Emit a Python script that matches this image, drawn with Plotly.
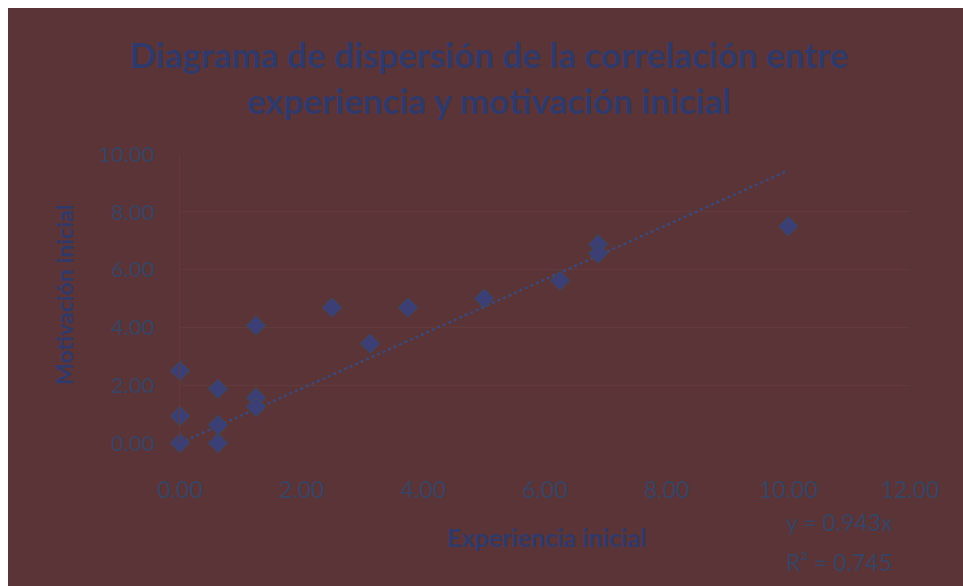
import numpy as np
import plotly.graph_objects as go

# Experiencia inicial (x) vs Motivación inicial (y)
experiencia = [0.0, 0.0, 0.0, 0.625, 0.625, 0.625, 1.25, 1.25, 1.25,
               2.5, 3.125, 3.75, 5.0, 6.25, 6.875, 6.875, 10.0]
motivacion = [0.0, 0.9375, 2.5, 0.0, 0.625, 1.875, 4.0625, 1.5625, 1.25,
              4.6875, 3.4375, 4.6875, 5.0, 5.625, 6.875, 6.5625, 7.5]

# Linear trend through the origin, as reported on the chart
trend_slope = 0.943
trend_r2 = 0.745
trend_x = [0.0, 10.0]

x_ticks = [0, 2, 4, 6, 8, 10, 12]
y_ticks = [0, 2, 4, 6, 8, 10]

W, H = 963, 586
ML, MR, MT, MB = 180, 53, 154, 143
PW, PH = W - ML - MR, H - MT - MB

BG = "#5b3437"
NAVY = "#303a6a"
TICK = "#384463"
GRID = "#623a3b"
FONT = "Lato, 'Open Sans', sans-serif"


def px_x(p):
    return (p - ML) / PW


def px_y(p):
    return (H - MB - p) / PH


fig = go.Figure()

fig.add_trace(go.Scatter(
    x=trend_x,
    y=[trend_slope * v for v in trend_x],
    mode="lines",
    line=dict(color="#3a4a7c", width=2.4, dash="dot"),
    hoverinfo="skip",
    showlegend=False,
    cliponaxis=False,
))

fig.add_trace(go.Scatter(
    x=experiencia,
    y=motivacion,
    mode="markers",
    marker=dict(symbol="diamond", size=15, color="#3c3f76",
                line=dict(color="#3d4a55", width=1)),
    showlegend=False,
    cliponaxis=False,
))

annotations = [
    dict(text="<b>Motivación inicial</b>", x=px_x(64), y=px_y(295), textangle=-90,
         font=dict(size=23, color=NAVY, family=FONT)),
    dict(text="<b>Experiencia inicial</b>", x=px_x(546), y=px_y(537),
         font=dict(size=25, color=NAVY, family=FONT)),
    dict(text=f"y = {trend_slope:.3f}x", x=px_x(784), y=px_y(522), xanchor="left",
         font=dict(size=23, color=TICK, family=FONT)),
    dict(text=f"R² = {trend_r2:.3f}", x=px_x(784), y=px_y(562), xanchor="left",
         font=dict(size=23, color=TICK, family=FONT)),
]
for a in annotations:
    a.update(xref="paper", yref="paper", showarrow=False)
    a.setdefault("xanchor", "center")
    a["yanchor"] = "middle"

# thin white frame along the top and left edges of the image
shapes = [
    dict(type="rect", xref="paper", yref="paper", x0=px_x(0), x1=px_x(W),
         y0=px_y(8), y1=px_y(0), fillcolor="white", line=dict(width=0), layer="above"),
    dict(type="rect", xref="paper", yref="paper", x0=px_x(0), x1=px_x(8),
         y0=px_y(H), y1=px_y(0), fillcolor="white", line=dict(width=0), layer="above"),
]

fig.update_layout(
    width=W, height=H,
    margin=dict(l=ML, r=MR, t=MT, b=MB),
    paper_bgcolor=BG, plot_bgcolor=BG,
    title=dict(
        text="Diagrama de dispersión de la correlación entre<br>experiencia y motivación inicial",
        x=489 / W, xanchor="center", y=1 - 68 / H, yanchor="middle",
        font=dict(size=35, color=NAVY, family=FONT, weight="bold"),
    ),
    annotations=annotations,
    shapes=shapes,
    xaxis=dict(range=[0, 12], tickvals=x_ticks, ticktext=[f"{v:.2f}" for v in x_ticks],
               showgrid=False, zeroline=False, showline=False,
               ticklabelstandoff=31,
               tickfont=dict(size=23, color=TICK, family=FONT)),
    yaxis=dict(range=[0, 10], tickvals=y_ticks, ticktext=[f"{v:.2f}" for v in y_ticks],
               showgrid=True, gridcolor=GRID, gridwidth=1, zeroline=False,
               showline=True, linecolor=GRID, linewidth=1,
               ticklabelstandoff=20,
               tickfont=dict(size=22, color=TICK, family=FONT)),
)

fig.write_html("out.html")
